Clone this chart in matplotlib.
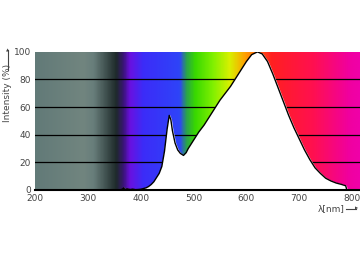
import numpy as np
import matplotlib
matplotlib.use("Agg")
import matplotlib.pyplot as plt
from matplotlib.colors import LinearSegmentedColormap

# spectrum curve (nm, %)
wavelength = [360, 365, 368, 370, 375, 380, 385, 390, 395, 400, 405, 410, 415,
              420, 425, 430, 435, 440, 445, 450, 454, 457, 460, 465, 470, 475,
              481, 486, 490, 500, 510, 520, 530, 540, 550, 560, 570, 580, 590,
              600, 610, 621, 630, 640, 650, 660, 670, 680, 690, 700, 710, 720,
              730, 740, 750, 760, 770, 780, 788, 790, 815]
intensity = [0, 0.5, 1.5, 0.3, 0.8, 0.3, 0.6, 0.2, 0.3, 0.5, 1, 1.5, 2.5,
             4, 6, 9, 12, 17, 28, 44, 54, 51, 43, 34, 29, 26.5,
             25, 27, 30, 36, 42, 47, 53, 59, 65, 70, 75, 81, 87,
             93, 98, 100, 98.5, 93, 84, 74, 64, 54, 45, 37, 29, 22,
             16, 12, 8.5, 6.5, 5, 4, 3, 0, 0]

# background colour stops (nm -> colour)
bg_nm = [200, 290, 310, 353, 367, 379, 404, 474, 486, 503, 537, 569, 598, 648, 728, 797, 815]
bg_col = ["#627a78", "#71857f", "#687e7b", "#1e2a2a", "#3a1478", "#6a10e0",
          "#3c2cf8", "#2e44f8", "#2aa050", "#38d800", "#80f000", "#d8f000",
          "#ffa000", "#ff2020", "#ff1050", "#f000a0", "#f000a8"]

xticks = [200, 300, 400, 500, 600, 700, 800]
yticks = [0, 20, 40, 60, 80, 100]

fig = plt.figure(figsize=(3.6, 2.62), dpi=100)
ax = fig.add_axes([35 / 360, 0.275, 325 / 360, 0.527])

xmin, xmax = 200, 815
pos = [(v - xmin) / (xmax - xmin) for v in bg_nm]
cmap = LinearSegmentedColormap.from_list("spec", list(zip(pos, bg_col)))
grad = np.linspace(0, 1, 600).reshape(1, -1)
ax.imshow(grad, cmap=cmap, aspect="auto", extent=[xmin, xmax, 0, 100],
          interpolation="bilinear", zorder=0)

for y in [20, 40, 60, 80]:
    ax.axhline(y, color="black", lw=0.9, zorder=1)

ax.fill_between(wavelength, intensity, 0, color="white", zorder=2)
ax.plot(wavelength, intensity, color="black", lw=1.0, zorder=3)

ax.set_xlim(xmin, xmax)
ax.set_ylim(0, 100)
ax.set_xticks(xticks)
ax.set_yticks(yticks)
ax.tick_params(length=0, labelsize=6.5, labelcolor="#444444", pad=3)
for s in ["top", "right", "left"]:
    ax.spines[s].set_visible(False)
ax.spines["bottom"].set_linewidth(1.5)

fig.text(8 / 360, 1 - 93 / 262, "Intensity (%)", rotation=90, ha="center",
         va="center", fontsize=6.5, color="#444444")
fig.add_artist(plt.Line2D([8 / 360, 8 / 360], [1 - 70 / 262, 1 - 50 / 262],
                          color="#444444", lw=0.8))
fig.text(8 / 360, 1 - 50 / 262, "\u25b2", ha="center", va="center",
         fontsize=3, color="#444444")
fig.text(345 / 360, 1 - 209 / 262, "\u03bb[nm]", ha="right", va="center",
         fontsize=6.5, color="#444444")
fig.add_artist(plt.Line2D([346 / 360, 356 / 360], [1 - 209 / 262, 1 - 209 / 262],
                          color="#444444", lw=0.8))
fig.text(356.5 / 360, 1 - 209 / 262, "\u25b6", ha="center", va="center",
         fontsize=3, color="#444444")

fig.savefig("out.png", dpi=100)
